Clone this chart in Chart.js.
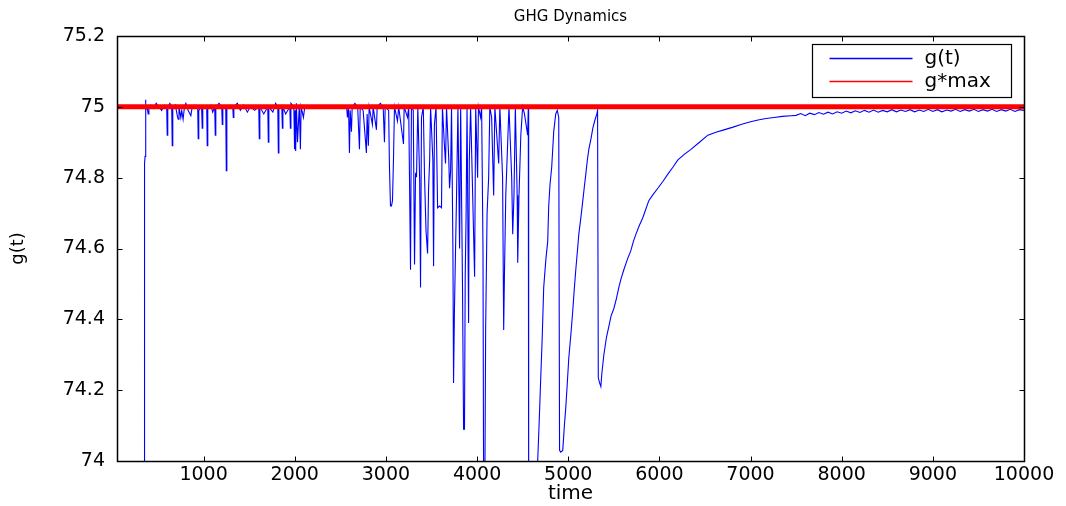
<!DOCTYPE html>
<html>
<head>
<meta charset="utf-8">
<script src="https://cdn.jsdelivr.net/npm/chart.js@4.4.1/dist/chart.umd.min.js"></script>
<style>
  html, body { margin: 0; padding: 0; background: #fff; }
  #wrap { width: 1066px; height: 506px; }
</style>
</head>
<body>
<div id="wrap"><canvas id="ghgChart"></canvas></div>
<script>
const chartTitle = 'GHG Dynamics';
const xAxisTitle = 'time';
const yAxisTitle = 'g(t)';
const seriesNames = ['g(t)', 'g*max'];
const seriesColors = ['#0000ff', '#ff0000'];
const timeRange = [50, 10000];
const xTicks = [1000, 2000, 3000, 4000, 5000, 6000, 7000, 8000, 9000, 10000];
const yTicks = [74, 74.2, 74.4, 74.6, 74.8, 75, 75.2];
const yTickLabels = ['74', '74.2', '74.4', '74.6', '74.8', '75', '75.2'];
const gMaxLevel = 75;

// g(t), [time, value]
const earlyPhase = [
  [348, 73.9], [352, 74.84], [358, 74.86], [362, 75.02], [368, 74.99], [380, 75.0], [392, 74.98], [400, 75.0],
  [420, 75.005], [450, 74.995], [480, 75.01], [510, 75.0], [540, 74.99], [570, 75.005], [595, 75.0], [601, 74.92],
  [607, 75.0], [630, 75.01], [650, 75.0], [656, 74.89], [662, 75.0], [690, 75.005], [715, 74.97], [722, 74.965],
  [730, 75.0], [750, 74.97], [760, 74.99], [775, 74.965], [790, 75.0], [805, 75.01], [830, 74.99], [860, 74.975],
  [875, 75.0], [900, 75.005], [935, 75.0], [941, 74.91], [947, 74.99], [978, 75.0], [985, 74.94], [991, 75.0],
  [1034, 75.0], [1040, 74.89], [1046, 75.0], [1080, 75.005], [1100, 74.985], [1122, 75.0], [1128, 74.92], [1134, 75.0],
  [1170, 75.01], [1199, 75.0], [1205, 74.95], [1211, 75.0], [1243, 75.0], [1249, 74.82], [1255, 75.0], [1290, 75.005],
  [1320, 75.0], [1326, 74.97], [1332, 75.0], [1370, 75.01], [1403, 74.99], [1440, 75.005], [1480, 74.985], [1512, 75.0],
  [1560, 74.99], [1605, 75.0], [1611, 74.91], [1617, 75.0], [1660, 74.98], [1704, 75.0], [1710, 74.9], [1716, 75.0],
  [1760, 74.985], [1790, 75.01], [1814, 75.0], [1820, 74.87], [1826, 75.0], [1858, 75.0], [1864, 74.94], [1870, 75.0],
  [1900, 74.98], [1946, 75.0], [1952, 74.94], [1958, 75.01], [1990, 75.0], [1998, 74.88], [2004, 74.99], [2010, 74.875],
  [2018, 75.01], [2030, 74.9], [2040, 74.95], [2050, 75.005], [2062, 74.88], [2070, 75.0], [2095, 74.97], [2110, 75.0],
  [2120, 74.997], [2570, 74.997]
];
const midPhase = [
  [2578, 74.97], [2590, 75.0], [2600, 74.87], [2608, 74.99], [2622, 74.93], [2630, 75.0], [2660, 75.01], [2690, 75.0],
  [2710, 74.88], [2718, 75.0], [2750, 74.99], [2786, 74.87], [2794, 74.98], [2808, 74.89], [2816, 75.0], [2852, 74.95],
  [2860, 75.0], [2896, 74.935], [2904, 75.0], [2940, 75.01], [2970, 75.0], [2984, 74.9], [2992, 75.0], [3030, 74.99],
  [3039, 74.83], [3050, 74.72], [3061, 74.72], [3072, 74.735], [3083, 74.85], [3094, 75.0], [3127, 74.96], [3140, 75.0],
  [3193, 74.895], [3200, 75.0], [3237, 74.97], [3250, 75.0], [3270, 74.54], [3280, 75.0], [3300, 74.99], [3314, 74.555],
  [3325, 74.81], [3336, 74.805], [3350, 75.0], [3370, 74.8], [3380, 74.49], [3390, 74.97], [3410, 75.0], [3424, 74.8],
  [3440, 74.65], [3457, 74.586], [3468, 74.77], [3480, 74.85], [3490, 75.0], [3515, 74.85], [3523, 74.55], [3532, 74.95],
  [3550, 75.0], [3567, 74.715], [3590, 74.72], [3610, 74.715], [3620, 75.0], [3640, 74.9], [3654, 74.84], [3665, 75.0],
  [3690, 74.85], [3698, 74.77], [3710, 74.82], [3720, 75.0], [3735, 74.6], [3742, 74.22], [3752, 74.43], [3764, 74.6],
  [3775, 74.75], [3790, 75.0], [3808, 74.6], [3820, 75.0], [3840, 74.5], [3852, 74.09], [3862, 74.09], [3870, 74.52],
  [3880, 74.7], [3890, 75.0], [3907, 74.39], [3915, 74.85], [3929, 75.0]
];
const dipPhase = [
  [3973, 74.52], [3985, 75.0], [4006, 74.8], [4015, 75.0], [4039, 74.97], [4050, 75.0], [4065, 74.6], [4072, 73.9],
  [4085, 73.9], [4094, 74.37], [4110, 74.7], [4127, 74.8], [4140, 75.0], [4160, 74.97], [4182, 74.75], [4195, 75.0],
  [4237, 74.84], [4250, 75.0], [4280, 74.8], [4292, 74.37], [4300, 74.52], [4315, 74.75], [4336, 74.9], [4350, 75.0],
  [4380, 74.8], [4391, 74.64], [4405, 74.75], [4420, 75.0], [4440, 74.75], [4446, 74.56], [4460, 74.75], [4480, 74.92],
  [4500, 75.0], [4520, 74.98], [4555, 74.92], [4562, 75.0], [4566, 73.9], [4600, 73.8], [4660, 73.9], [4665, 74.0],
  [4680, 74.1], [4698, 74.23], [4715, 74.35], [4731, 74.49], [4755, 74.57], [4775, 74.62], [4786, 74.72], [4800, 74.78],
  [4819, 74.83], [4841, 74.93], [4863, 74.98], [4880, 74.99], [4896, 74.97]
];
const recoveryPhase = [
  [4905, 74.03], [4918, 74.025], [4940, 74.03], [4958, 74.1], [4973, 74.15], [4990, 74.22], [5006, 74.29], [5030, 74.36],
  [5050, 74.425], [5065, 74.48], [5083, 74.54], [5100, 74.59], [5116, 74.64], [5140, 74.69], [5160, 74.735], [5175, 74.77],
  [5193, 74.81], [5210, 74.85], [5226, 74.88], [5250, 74.91], [5270, 74.94], [5290, 74.96], [5314, 74.98], [5322, 74.99],
  [5330, 74.235], [5345, 74.22], [5358, 74.21], [5370, 74.25], [5391, 74.3], [5420, 74.35], [5446, 74.38], [5470, 74.41],
  [5500, 74.43], [5530, 74.46], [5555, 74.49], [5580, 74.515], [5610, 74.54], [5650, 74.57], [5687, 74.594], [5715, 74.62],
  [5742, 74.64], [5780, 74.665], [5818, 74.687], [5850, 74.71], [5884, 74.735], [5930, 74.752], [5983, 74.77], [6040, 74.79],
  [6093, 74.81], [6150, 74.83], [6203, 74.85], [6270, 74.865], [6346, 74.88], [6440, 74.9], [6532, 74.92], [6620, 74.928],
  [6708, 74.935], [6800, 74.942], [6895, 74.95], [6990, 74.957], [7082, 74.963], [7170, 74.967], [7258, 74.97], [7350, 74.973],
  [7445, 74.975]
];
const tailPhase = [
  [7500, 74.976], [7550, 74.981], [7600, 74.975], [7650, 74.982], [7700, 74.978], [7750, 74.984], [7800, 74.979], [7850, 74.985],
  [7900, 74.98], [7950, 74.986], [8000, 74.982], [8050, 74.988], [8100, 74.983], [8150, 74.989], [8200, 74.984], [8250, 74.99],
  [8300, 74.985], [8350, 74.991], [8400, 74.985], [8450, 74.99], [8500, 74.986], [8550, 74.992], [8600, 74.986], [8650, 74.991],
  [8700, 74.987], [8750, 74.992], [8800, 74.986], [8850, 74.991], [8900, 74.987], [8950, 74.993], [9000, 74.987], [9050, 74.992],
  [9100, 74.986], [9150, 74.991], [9200, 74.988], [9250, 74.993], [9300, 74.987], [9350, 74.992], [9400, 74.988], [9450, 74.993],
  [9500, 74.987], [9550, 74.992], [9600, 74.988], [9650, 74.993], [9700, 74.987], [9750, 74.992], [9800, 74.988], [9850, 74.993],
  [9900, 74.987], [9950, 74.992], [10000, 74.99]
];

const gSeries = [...earlyPhase, ...midPhase, ...dipPhase, ...recoveryPhase, ...tailPhase]
  .map(([t, g]) => ({ x: t, y: g }));
const gMaxSeries = timeRange.map(t => ({ x: t, y: gMaxLevel }));

const FONT = 'DejaVu Sans';

// MATLAB style frame: box, inward ticks, title and legend
const matlabFrame = {
  id: 'matlabFrame',
  afterDraw(chart) {
    const ctx = chart.ctx;
    const { left, right, top, bottom } = chart.chartArea;
    const xs = chart.scales.x, ys = chart.scales.y;
    const L = Math.round(left) + 0.5, R = Math.round(right) + 0.5;
    const T = Math.round(top) + 0.5, B = Math.round(bottom) + 0.5;
    ctx.save();
    ctx.strokeStyle = '#000';
    ctx.lineWidth = 1.5;
    ctx.strokeRect(L, T, R - L, B - T);
    ctx.lineWidth = 1;
    ctx.beginPath();
    xTicks.forEach(v => {
      const px = Math.round(xs.getPixelForValue(v)) + 0.5;
      ctx.moveTo(px, B); ctx.lineTo(px, B - 5);
      ctx.moveTo(px, T); ctx.lineTo(px, T + 5);
    });
    yTicks.forEach(v => {
      const py = Math.round(ys.getPixelForValue(v)) + 0.5;
      ctx.moveTo(L, py); ctx.lineTo(L + 5, py);
      ctx.moveTo(R, py); ctx.lineTo(R - 5, py);
    });
    ctx.stroke();

    // title
    ctx.fillStyle = '#000';
    ctx.font = '15px "' + FONT + '"';
    ctx.textAlign = 'center';
    ctx.textBaseline = 'middle';
    ctx.fillText(chartTitle, (left + right) / 2, 17);

    // legend
    const bx = Math.round(right) - 211.5, by = Math.round(top) + 8.5, bw = 199, bh = 53;
    ctx.fillStyle = '#fff';
    ctx.fillRect(bx, by, bw, bh);
    ctx.strokeStyle = '#000';
    ctx.lineWidth = 1.2;
    ctx.strokeRect(bx, by, bw, bh);
    ctx.font = '20px "' + FONT + '"';
    ctx.textAlign = 'left';
    seriesNames.forEach((name, i) => {
      const ly = by + 14 + i * 23;
      ctx.strokeStyle = seriesColors[i];
      ctx.lineWidth = 1.5;
      ctx.beginPath();
      ctx.moveTo(bx + 17, ly); ctx.lineTo(bx + 100, ly);
      ctx.stroke();
      ctx.fillStyle = '#000';
      ctx.fillText(name, bx + 112, ly);
    });
    ctx.restore();
  }
};

const ctx = document.getElementById('ghgChart').getContext('2d');
const chart = new Chart(ctx, {
  type: 'line',
  data: {
    datasets: [
      {
        label: seriesNames[0],
        data: gSeries,
        borderColor: seriesColors[0],
        borderWidth: 1.1,
        pointRadius: 0,
        tension: 0,
        fill: false,
        order: 1
      },
      {
        label: seriesNames[1],
        data: gMaxSeries,
        borderColor: seriesColors[1],
        borderWidth: 5,
        pointRadius: 0,
        tension: 0,
        fill: false,
        order: 0
      }
    ]
  },
  options: {
    responsive: true,
    maintainAspectRatio: false,
    animation: false,
    events: [],
    layout: { padding: { top: 36, right: 42, left: 0, bottom: 0 } },
    plugins: {
      legend: { display: false },
      title: { display: false },
      tooltip: { enabled: false }
    },
    scales: {
      x: {
        type: 'linear',
        min: timeRange[0],
        max: timeRange[1],
        afterBuildTicks: s => { s.ticks = xTicks.map(v => ({ value: v })); },
        afterFit: s => { s.height = 45; },
        grid: { display: false, drawTicks: false },
        border: { display: false },
        ticks: {
          color: '#000',
          font: { family: FONT, size: 19 },
          padding: 3,
          maxRotation: 0,
          autoSkip: false,
          callback: v => String(v)
        },
        title: {
          display: true,
          text: xAxisTitle,
          color: '#000',
          font: { family: FONT, size: 20 },
          padding: { top: 0, bottom: 0 }
        }
      },
      y: {
        type: 'linear',
        min: yTicks[0],
        max: yTicks[yTicks.length - 1],
        afterBuildTicks: s => { s.ticks = yTicks.map(v => ({ value: v })); },
        afterFit: s => { s.width = 117; },
        grid: { display: false, drawTicks: false },
        border: { display: false },
        ticks: {
          color: '#000',
          font: { family: FONT, size: 19 },
          padding: 12,
          autoSkip: false,
          callback: (v, i) => yTickLabels[i]
        },
        title: {
          display: true,
          text: yAxisTitle,
          color: '#000',
          font: { family: FONT, size: 18 },
          padding: { top: 8, bottom: 0 }
        }
      }
    }
  },
  plugins: [matlabFrame]
});
</script>
</body>
</html>
